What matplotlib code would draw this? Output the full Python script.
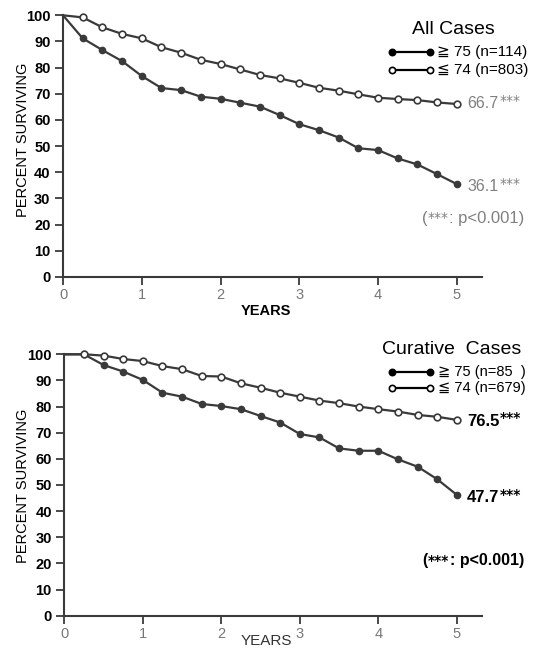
import numpy as np
import matplotlib
matplotlib.use("Agg")
import matplotlib.pyplot as plt
from matplotlib.lines import Line2D

plt.rcParams['font.family'] = ['Liberation Sans', 'DejaVu Sans']

# survival data, read every quarter year
years = [0, 0.25, 0.5, 0.75, 1, 1.25, 1.5, 1.75, 2, 2.25, 2.5,
         2.75, 3, 3.25, 3.5, 3.75, 4, 4.25, 4.5, 4.75, 5]

# all cases
all_old = [100, 91.2, 86.7, 82.5, 76.8, 72.2, 71.4, 68.9, 68.1, 66.6, 65.1,
           61.9, 58.4, 56.1, 53.3, 49.2, 48.5, 45.3, 43.0, 39.3, 35.5]
all_young = [100, 99.2, 95.4, 92.9, 91.2, 87.8, 85.7, 83.0, 81.4, 79.3, 77.2,
             75.9, 74.2, 72.3, 71.2, 69.8, 68.5, 68.0, 67.6, 66.7, 66.1]

# curative cases
cur_old = [100, 100, 95.9, 93.4, 90.2, 85.3, 83.8, 81.0, 80.2, 79.0, 76.4,
           73.9, 69.5, 68.2, 64.0, 63.1, 63.1, 59.8, 57.0, 52.2, 46.2]
cur_young = [100, 100, 99.5, 98.2, 97.4, 95.5, 94.3, 91.7, 91.5, 88.9, 87.2,
             85.3, 83.8, 82.3, 81.3, 80.0, 79.0, 78.1, 76.8, 76.1, 74.9]

W, H = 533, 657
lc = '#3a3a3a'

def fx(x):
    return x / W

def fy(y):
    return 1 - y / H

fig = plt.figure(figsize=(5.33, 6.57), dpi=100)

def make_axes(rect, old, young):
    ax = fig.add_axes(rect)
    ax.plot(years, old, '-o', color=lc, lw=1.6, ms=4.5, mfc=lc, mec=lc,
            markevery=slice(1, None), clip_on=False, zorder=3)
    ax.plot(years, young, '-o', color=lc, lw=1.6, ms=4.8, mfc='white', mec=lc,
            mew=1.2, markevery=slice(1, None), clip_on=False, zorder=4)
    ax.set_xlim(0, 5.32)
    ax.set_ylim(0, 100)
    ax.set_xticks([0, 1, 2, 3, 4, 5])
    ax.set_yticks(np.arange(0, 101, 10))
    for s in ['top', 'right']:
        ax.spines[s].set_visible(False)
    for s in ['left', 'bottom']:
        ax.spines[s].set_linewidth(1.5)
        ax.spines[s].set_color(lc)
    ax.tick_params(axis='both', direction='out', length=6, width=1.3, color=lc)
    ax.tick_params(axis='y', labelsize=10.5, pad=3)
    ax.tick_params(axis='x', labelsize=10.5, pad=2, labelcolor='#777777')
    for lab in ax.get_yticklabels():
        lab.set_fontweight('bold')
    return ax

ax1 = make_axes([fx(63), fy(277), (482 - 63) / W, (277 - 15.3) / H], all_old, all_young)
ax2 = make_axes([fx(64.3), fy(615.7), (482 - 64.3) / W, (615.7 - 354.3) / H], cur_old, cur_young)

# axis labels
fig.text(fx(23), fy(140), 'PERCENT SURVIVING', rotation=90, ha='center', va='center', fontsize=10.5)
fig.text(fx(23), fy(486), 'PERCENT SURVIVING', rotation=90, ha='center', va='center', fontsize=10.5)
fig.text(fx(266), fy(311), 'YEARS', ha='center', va='center', fontsize=10.5, fontweight='bold')
fig.text(fx(266), fy(641), 'YEARS', ha='center', va='center', fontsize=11, color='#333333')

# legends drawn by hand
def legend_line(y, filled):
    fig.add_artist(Line2D([fx(392), fx(430)], [fy(y), fy(y)], transform=fig.transFigure,
                          color='black', lw=1.6, marker='o', ms=4.5,
                          mfc='black' if filled else 'white', mec='black', mew=1.2))

fig.text(fx(412), fy(30), 'All Cases', ha='left', va='center', fontsize=14)
legend_line(51.7, True)
legend_line(70, False)
fig.text(fx(437), fy(51.7), '≧ 75 (n=114)', ha='left', va='center', fontsize=11)
fig.text(fx(437), fy(70), '≦ 74 (n=803)', ha='left', va='center', fontsize=11)

fig.text(fx(382), fy(350), 'Curative  Cases', ha='left', va='center', fontsize=14)
legend_line(371.7, True)
legend_line(388.3, False)
fig.text(fx(438), fy(371.7), '≧ 75 (n=85  )', ha='left', va='center', fontsize=10.5)
fig.text(fx(438), fy(388.3), '≦ 74 (n=679)', ha='left', va='center', fontsize=10.5)

# end values
gray = '#808080'
star = ['DejaVu Sans']
fig.text(fx(467), fy(104), '66.7', ha='left', va='center', fontsize=11.5, color=gray)
fig.text(fx(500), fy(101), '***', ha='left', va='center', fontsize=10, color=gray, family=star)
fig.text(fx(467), fy(187), '36.1', ha='left', va='center', fontsize=11.5, color=gray)
fig.text(fx(500), fy(184), '***', ha='left', va='center', fontsize=10, color=gray, family=star)
fig.text(fx(422), fy(218), '(', ha='left', va='center', fontsize=12, color=gray)
fig.text(fx(428), fy(218), '***', ha='left', va='center', fontsize=10, color=gray, family=star)
fig.text(fx(449), fy(218), ': p<0.001)', ha='left', va='center', fontsize=12, color=gray)

fig.text(fx(467), fy(421), '76.5', ha='left', va='center', fontsize=12, fontweight='bold')
fig.text(fx(500), fy(418), '***', ha='left', va='center', fontsize=10, fontweight='bold', family=star)
fig.text(fx(467), fy(498), '47.7', ha='left', va='center', fontsize=12, fontweight='bold')
fig.text(fx(500), fy(495), '***', ha='left', va='center', fontsize=10, fontweight='bold', family=star)
fig.text(fx(422), fy(560), '(', ha='left', va='center', fontsize=11.5, fontweight='bold')
fig.text(fx(428), fy(561), '***', ha='left', va='center', fontsize=10, fontweight='bold', family=star)
fig.text(fx(450), fy(560), ': p<0.001)', ha='left', va='center', fontsize=11.5, fontweight='bold')

plt.savefig('out.png', dpi=100)
